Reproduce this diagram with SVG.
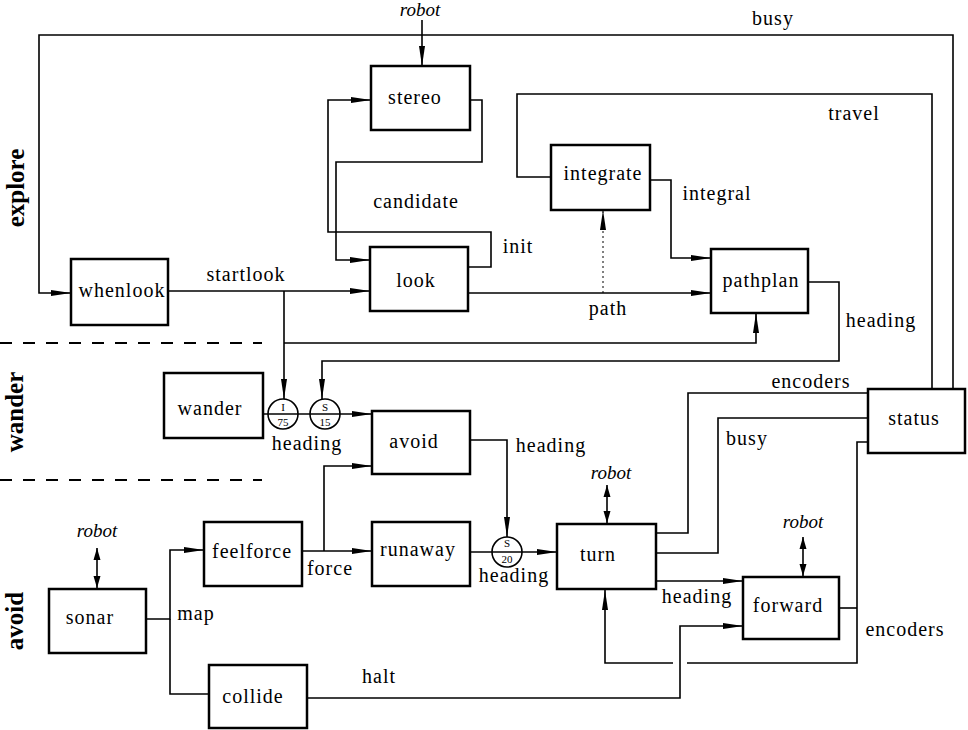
<svg xmlns="http://www.w3.org/2000/svg" width="968" height="730" viewBox="0 0 968 730">
<defs>
<marker id="ah" markerUnits="userSpaceOnUse" markerWidth="20" markerHeight="8" refX="20" refY="4" orient="auto"><path d="M0,1 L20,4 L0,7 Z" fill="#000"/></marker>
<marker id="ahs" markerUnits="userSpaceOnUse" markerWidth="12" markerHeight="8" refX="12" refY="4" orient="auto-start-reverse"><path d="M0,0.5 L12,4 L0,7.5 Z" fill="#000"/></marker>
<style>
.node rect{fill:#fff;stroke:#000;stroke-width:2.5}
text{font-family:"Liberation Serif","Times New Roman",serif;font-size:20px;fill:#000}
.node text,.c{text-anchor:middle}
.node text,.lbl{letter-spacing:1px}
.it{font-style:italic;font-size:19px}
.layer{font-size:25px;font-weight:bold}
.cn{fill:none;stroke:#000;stroke-width:1.6}
.arr{marker-end:url(#ah)}
.dbl{marker-start:url(#ahs);marker-end:url(#ahs)}
.sup circle{fill:none;stroke:#000;stroke-width:1.6}
.sup text{font-size:11px;text-anchor:middle}
.dash{fill:none;stroke:#000;stroke-width:2;stroke-dasharray:12,11}
.dot{stroke-width:1;stroke-dasharray:2,3}
</style>
</defs>
<rect width="968" height="730" fill="#fff"/>

<g id="layers">
<path class="dash" d="M0,343 H262 M0,480 H262"/>
<text class="layer c" transform="translate(24,188) rotate(-90)">explore</text>
<text class="layer c" transform="translate(23,412) rotate(-90)">wander</text>
<text class="layer c" transform="translate(23,621) rotate(-90)">avoid</text>
</g>

<g id="connectors">
<path class="cn arr" d="M422,20 V66"/>
<path class="cn arr" d="M953,389 V35 H39 V293 H71"/>
<path class="cn" d="M932,389 V94 H517 V177 H551"/>
<path class="cn arr" d="M470,100 H482 V162 H336 V260 H370"/>
<path class="cn arr" d="M468,267 H491 V232 H328 V100 H371"/>
<path class="cn arr" d="M168,291 H370"/>
<path class="cn arr" d="M284,291 V399"/>
<path class="cn arr" d="M284,343 H756 V313"/>
<path class="cn arr" d="M468,293 H711"/>
<path class="cn dot arr" d="M603,293 V210"/>
<path class="cn arr" d="M650,180 H671 V258 H711"/>
<path class="cn arr" d="M808,282 H839 V361 H322 V399"/>
<path class="cn arr" d="M263,414 H372"/>
<path class="cn arr" d="M470,440 H507 V537"/>
<path class="cn arr" d="M302,551 H372"/>
<path class="cn arr" d="M324,551 V466 H372"/>
<path class="cn arr" d="M146,619 H170 V550 H204"/>
<path class="cn" d="M170,619 V694 H209"/>
<path class="cn arr" d="M470,552 H557"/>
<path class="cn dbl" d="M97,548 V588"/>
<path class="cn dbl" d="M607,485 V523"/>
<path class="cn dbl" d="M803,537 V576"/>
<path class="cn" d="M656,533 H688 V393 H868"/>
<path class="cn" d="M656,553 H718 V418 H868"/>
<path class="cn arr" d="M656,581 H743"/>
<path class="cn" d="M868,442 H857 V663 H687"/>
<path class="cn" d="M839,608 H857"/>
<path class="cn arr" d="M673,663 H605 V590"/>
<path class="cn arr" d="M307,698 H680 V626 H743"/>
</g>

<g id="labels">
<text class="it c" x="420" y="16">robot</text>
<text class="lbl c" x="773" y="25">busy</text>
<text class="lbl c" x="854" y="120">travel</text>
<text class="lbl c" x="416" y="208">candidate</text>
<text class="lbl c" x="518" y="253">init</text>
<text class="lbl c" x="717" y="200">integral</text>
<text class="lbl c" x="246" y="281">startlook</text>
<text class="lbl c" x="608" y="315">path</text>
<text class="lbl c" x="881" y="327">heading</text>
<text class="lbl c" x="811" y="388">encoders</text>
<text class="lbl c" x="747" y="445">busy</text>
<text class="lbl c" x="551" y="452">heading</text>
<text class="it c" x="611" y="479">robot</text>
<text class="lbl c" x="307" y="450">heading</text>
<text class="it c" x="97" y="537">robot</text>
<text class="lbl c" x="330" y="575">force</text>
<text class="lbl c" x="514" y="582">heading</text>
<text class="lbl c" x="196" y="620">map</text>
<text class="lbl c" x="379" y="683">halt</text>
<text class="lbl c" x="697" y="603">heading</text>
<text class="it c" x="803" y="528">robot</text>
<text class="lbl c" x="905" y="636">encoders</text>
</g>

<g id="sup-I75" class="sup"><circle cx="283" cy="414" r="15"/><text x="283" y="411">I</text><text x="283" y="426">75</text></g>
<g id="sup-S15" class="sup"><circle cx="325" cy="414" r="15"/><text x="325" y="411">S</text><text x="325" y="426">15</text></g>
<g id="sup-S20" class="sup"><circle cx="507" cy="552" r="15"/><text x="507" y="547">S</text><text x="507" y="563">20</text></g>

<g id="stereo" class="node"><rect x="371" y="66" width="99" height="64"/><text x="415" y="104">stereo</text></g>
<g id="look" class="node"><rect x="370" y="247" width="98" height="64"/><text x="416" y="287">look</text></g>
<g id="whenlook" class="node"><rect x="71" y="259" width="97" height="66"/><text x="122" y="297">whenlook</text></g>
<g id="integrate" class="node"><rect x="551" y="145" width="99" height="65"/><text x="603" y="180">integrate</text></g>
<g id="pathplan" class="node"><rect x="711" y="249" width="97" height="64"/><text x="761" y="287">pathplan</text></g>
<g id="status" class="node"><rect x="868" y="389" width="97" height="64"/><text x="914" y="425">status</text></g>
<g id="wander" class="node"><rect x="164" y="373" width="99" height="65"/><text x="210" y="415">wander</text></g>
<g id="avoid" class="node"><rect x="372" y="411" width="98" height="63"/><text x="414" y="448">avoid</text></g>
<g id="feelforce" class="node"><rect x="204" y="522" width="98" height="64"/><text x="252" y="558">feelforce</text></g>
<g id="runaway" class="node"><rect x="372" y="522" width="98" height="64"/><text x="418" y="556">runaway</text></g>
<g id="sonar" class="node"><rect x="49" y="589" width="97" height="64"/><text x="90" y="624">sonar</text></g>
<g id="collide" class="node"><rect x="209" y="665" width="98" height="63"/><text x="253" y="703">collide</text></g>
<g id="turn" class="node"><rect x="557" y="524" width="99" height="65"/><text x="598" y="561">turn</text></g>
<g id="forward" class="node"><rect x="743" y="577" width="96" height="62"/><text x="788" y="612">forward</text></g>
</svg>
